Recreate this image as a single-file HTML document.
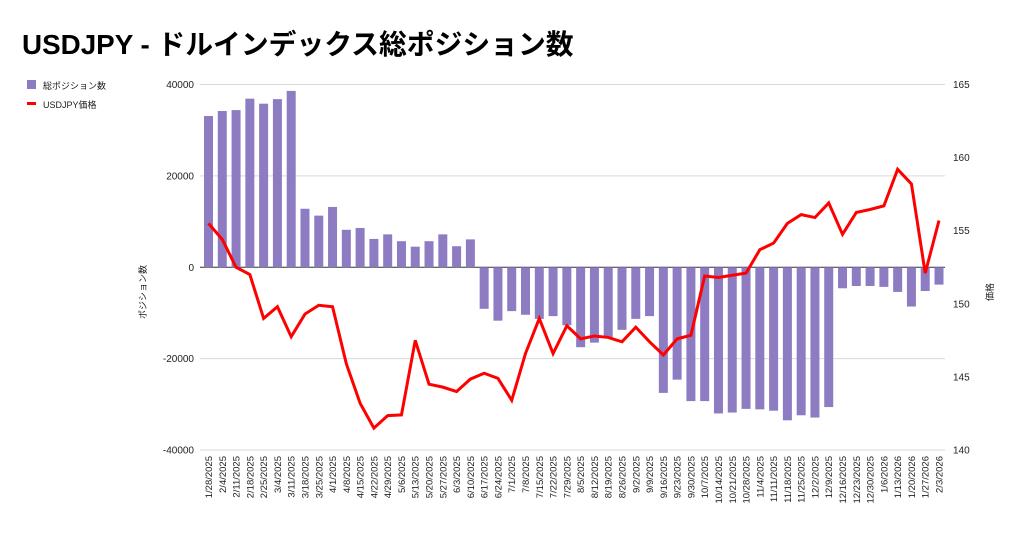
<!DOCTYPE html>
<html><head><meta charset="utf-8">
<style>
body{margin:0;background:#fff;width:1024px;height:534px;overflow:hidden;font-family:"Liberation Sans","Noto Sans CJK JP",sans-serif;}
</style></head>
<body>
<svg id="chart" width="1024" height="534" xmlns="http://www.w3.org/2000/svg" style="font-family:'Liberation Sans','Noto Sans CJK JP',sans-serif">
<text x="22" y="54" font-size="27.8" font-weight="bold" fill="#000">USDJPY - ドルインデックス総ポジション数</text>
<g>
<rect x="27" y="80" width="9" height="9" fill="#8e7cc3"/>
<text x="43" y="89" font-size="9" fill="#222">総ポジション数</text>
<rect x="27" y="102" width="9" height="3" fill="#ff0000"/>
<text x="43" y="108" font-size="9" fill="#222">USDJPY価格</text>
</g>
<g id="grid"></g><g id="bars"></g><g id="line"></g><g id="labels"></g>
<text transform="translate(146,292) rotate(-90)" text-anchor="middle" font-size="9" fill="#222">ポジション数</text>
<text transform="translate(993,292) rotate(-90)" text-anchor="middle" font-size="9" fill="#222">価格</text>
</svg>
<script>
const categories=["1/28/2025","2/4/2025","2/11/2025","2/18/2025","2/25/2025","3/4/2025","3/11/2025","3/18/2025","3/25/2025","4/1/2025","4/8/2025","4/15/2025","4/22/2025","4/29/2025","5/6/2025","5/13/2025","5/20/2025","5/27/2025","6/3/2025","6/10/2025","6/17/2025","6/24/2025","7/1/2025","7/8/2025","7/15/2025","7/22/2025","7/29/2025","8/5/2025","8/12/2025","8/19/2025","8/26/2025","9/2/2025","9/9/2025","9/16/2025","9/23/2025","9/30/2025","10/7/2025","10/14/2025","10/21/2025","10/28/2025","11/4/2025","11/11/2025","11/18/2025","11/25/2025","12/2/2025","12/9/2025","12/16/2025","12/23/2025","12/30/2025","1/6/2026","1/13/2026","1/20/2026","1/27/2026","2/3/2026"];
const positions=[33100,34200,34400,36900,35800,36800,38600,12800,11300,13200,8200,8600,6200,7200,5700,4500,5700,7200,4600,6100,-9100,-11700,-9600,-10400,-11300,-10700,-12700,-17500,-16500,-15400,-13700,-11300,-10700,-27500,-24600,-29300,-29300,-32000,-31800,-31000,-31100,-31400,-33500,-32400,-32900,-30600,-4600,-4100,-4100,-4300,-5400,-8600,-5200,-3800];
const prices=[155.5,154.4,152.5,152.0,149.0,149.8,147.75,149.3,149.9,149.8,145.9,143.2,141.5,142.35,142.4,147.5,144.5,144.3,144.0,144.85,145.25,144.9,143.4,146.6,149.0,146.6,148.5,147.6,147.8,147.7,147.4,148.4,147.4,146.5,147.6,147.85,151.9,151.8,151.95,152.1,153.7,154.15,155.5,156.1,155.9,156.9,154.75,156.25,156.45,156.7,159.2,158.2,152.1,155.7];
const leftTicks=[40000,20000,0,-20000,-40000];
const rightTicks=[165,160,155,150,145,140];
const NS="http://www.w3.org/2000/svg";
const yTop=84.5,yBot=450,x0=200,x1=945;
const yL=v=>yTop+(40000-v)/80000*(yBot-yTop);
const yR=v=>yTop+(165-v)/25*(yBot-yTop);
const step=(939-208.5)/(categories.length-1);
const xC=i=>208.5+i*step;
function mk(t,a,p){const e=document.createElementNS(NS,t);for(const k in a)e.setAttribute(k,a[k]);document.getElementById(p).appendChild(e);return e;}
leftTicks.forEach(v=>{
  const l=mk('line',{x1:x0,x2:x1,y1:yL(v),y2:yL(v),stroke:v===0?'#333':'#d9d9d9','stroke-width':1},'grid');
  
  
  const t=mk('text',{x:194,y:yL(v)+3.5,'text-anchor':'end','font-size':10,fill:'#222'},'labels');
  t.textContent=v;
  
  
});
rightTicks.forEach(v=>{
  const t=mk('text',{x:953,y:yR(v)+3.5,'font-size':10,fill:'#222'},'labels');
  t.textContent=v;
  
  
});
positions.forEach((v,i)=>{
  const y0=yL(0),y=yL(v);
  const r=mk('rect',{x:xC(i)-4.5,y:Math.min(y,y0),width:9,height:Math.abs(y-y0),fill:'#8e7cc3'},'bars');
  
  
});
const pl=mk('polyline',{points:prices.map((v,i)=>xC(i)+','+yR(v)).join(' '),fill:'none',stroke:'#ff0000','stroke-width':3,'stroke-linejoin':'miter'},'line');


categories.forEach((c,i)=>{
  const t=mk('text',{transform:`translate(${xC(i)+3.5},456) rotate(-90)`,'text-anchor':'end','font-size':9.5,fill:'#222'},'labels');
  t.textContent=c;
  
  
});
</script>
</body></html>
